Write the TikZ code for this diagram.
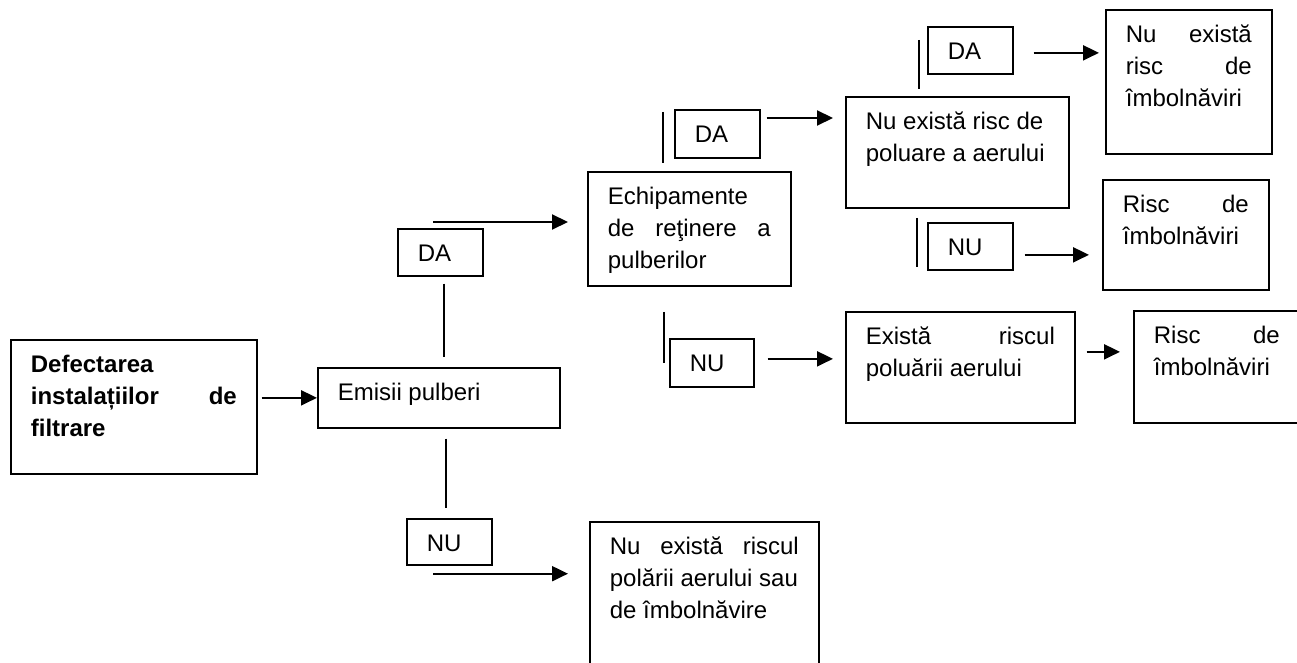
\documentclass[tikz,border=0pt]{standalone}
\usepackage{fontspec}
\setmainfont{Liberation Sans}
\usetikzlibrary{arrows.meta,calc}
\newcommand{\bt}[3]{\parbox[c][\dimexpr #2pt/2\relax][t]{\dimexpr (#1pt-40pt)/2\relax}{\rule{0pt}{16.5pt}#3}}
\tikzset{
  box/.style={draw, line width=0.85pt, inner xsep=10pt, inner ysep=0pt, anchor=north west, font=\fontsize{12pt}{16pt}\selectfont},
  ln/.style={line width=0.65pt},
  arr/.style={line width=1.05pt, -{Triangle[length=8pt,width=7.5pt]}}
}
\begin{document}
\begin{tikzpicture}[x=0.5pt,y=-0.5pt]
\useasboundingbox (0,0) rectangle (1297,663);
\fill[white] (0,0) rectangle (1297,663);
\clip (0,0) rectangle (1297,663);

% boxes
\node[box] (def) at (10,339) {\bt{246}{134}{\bfseries Defectarea\\ instalațiilor\hfill de\\ filtrare}};
\node[box] (emi) at (317,367) {\bt{242}{60}{Emisii pulberi}};
\node[box] (da1) at (397,228) {\bt{85}{47}{DA}};
\node[box] (ech) at (587,171) {\bt{203}{114}{Echipamente\\ de\hfill reţinere\hfill a\\ pulberilor}};
\node[box] (nu1) at (406,518) {\bt{85}{46}{NU}};
\node[box] (fin) at (589,521) {\bt{229}{160}{Nu\hfill există\hfill riscul\\ polării aerului sau\\ de îmbolnăvire}};
\node[box] (da2) at (674,109) {\bt{85}{48}{DA}};
\node[box] (nu2) at (669,338) {\bt{84}{48}{NU}};
\node[box] (pol) at (845,96) {\bt{223}{111}{Nu există risc de\\ poluare a aerului}};
\node[box] (ex) at (845,311) {\bt{229}{111}{Există\hfill riscul\\ poluării aerului}};
\node[box] (da3) at (927,26) {\bt{85}{47}{DA}};
\node[box] (nu3) at (927,222) {\bt{85}{47}{NU}};
\node[box] (nrb) at (1105,9) {\bt{166}{144}{Nu\hfill există\\ risc\hfill de\\ îmbolnăviri}};
\node[box] (rb1) at (1102,179) {\bt{166}{110}{Risc\hfill de\\ îmbolnăviri}};
\node[box] (rb2) at (1133,310) {\bt{166}{112}{Risc\hfill de\\ îmbolnăviri}};

% connectors
\draw[arr, shorten <=2pt] (def.east |- emi.west) -- (emi.west);

\coordinate (l1) at ($(da1.south)+(3.5,0)$);
\draw[ln, shorten <=3.5pt, shorten >=5pt] (l1) -- (l1 |- emi.north);
\coordinate (a1) at ($(da1.north west)+(36,-6)$);
\draw[arr, shorten >=9.5pt] (a1) -- (a1 -| ech.west);

\coordinate (l2) at ($(nu1.north)+(-3.5,0)$);
\draw[ln, shorten <=5pt, shorten >=5pt] (l2 |- emi.south) -- (l2);
\coordinate (a2) at ($(nu1.south west)+(27,8)$);
\draw[arr, shorten >=10.5pt] (a2) -- (a2 -| fin.west);

\draw[ln] ($(da2.north west)+(-11,3)$) -- ($(da2.south west)+(-11,4)$);
\coordinate (a3) at ($(da2.north east)+(6,9)$);
\draw[arr, shorten >=6pt] (a3) -- (a3 -| pol.west);

\draw[ln] ($(nu2.north west)+(-5,-26)$) -- ($(nu2.north west)+(-5,25)$);
\coordinate (a4) at ($(nu2.east)+(13,-4)$);
\draw[arr, shorten >=6pt] (a4) -- (a4 -| ex.west);

\draw[ln] ($(da3.north west)+(-8,14)$) -- ($(da3.north west)+(-8,63)$);
\coordinate (a5) at ($(da3.east)+(20,2.5)$);
\draw[arr, shorten >=3pt] (a5) -- (a5 -| nrb.west);

\draw[ln] ($(nu3.north west)+(-10,-4)$) -- ($(nu3.north west)+(-10,45)$);
\coordinate (a6) at ($(nu3.east)+(11,8.5)$);
\draw[arr, shorten >=6.5pt] (a6) -- (a6 -| rb1.west);

\coordinate (a7) at ($(ex.east)+(11,-15.5)$);
\draw[arr, shorten >=6.5pt] (a7) -- (a7 -| rb2.west);
\end{tikzpicture}
\end{document}
